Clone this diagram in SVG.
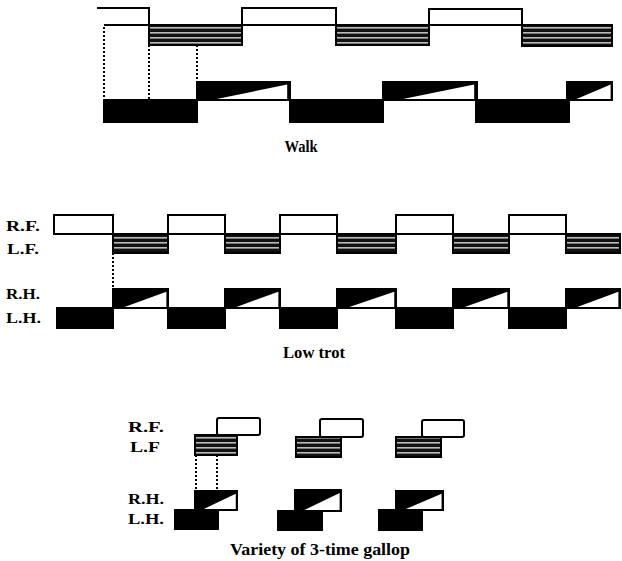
<svg xmlns="http://www.w3.org/2000/svg" width="622" height="561" viewBox="0 0 622 561">
<style>
.w{fill:#fff;stroke:#000;stroke-width:2}
.s{fill:url(#stripe);stroke:#000;stroke-width:2}
.b{fill:#000;stroke:#000;stroke-width:2}
.o{fill:none;stroke:#000;stroke-width:2}
.ln{stroke:#000;stroke-width:2;fill:none}
.d{stroke:#000;stroke-width:2;stroke-dasharray:2 2;fill:none}
.lab{font-family:"Liberation Serif",serif;font-weight:bold;font-size:15px;fill:#000}
.cap{font-family:"Liberation Serif",serif;font-weight:bold;font-size:16px;fill:#000}
</style>
<defs>
<pattern id="stripe" patternUnits="userSpaceOnUse" width="8" height="5">
<rect width="8" height="5" fill="#111"/>
<rect y="2" width="8" height="1.6" fill="#bbb"/>
</pattern>
<symbol id="tri" viewBox="0 0 100 100" preserveAspectRatio="none">
<rect width="100" height="100" fill="#000"/>
<polygon points="16,100 97,14 97,100" fill="#fff"/>
</symbol>
</defs>
<rect width="622" height="561" fill="#fff"/>

<g id="walk">
<g id="walk-rf">
<path class="ln" d="M97,8 H149 V25"/>
<rect class="w" x="242" y="8" width="94" height="17"/>
<rect class="w" x="429" y="9" width="93" height="16"/>
</g>
<line class="ln" x1="104" y1="25" x2="612" y2="25"/>
<g id="walk-lf">
<rect class="s" x="149" y="25" width="93" height="20"/>
<rect class="s" x="336" y="25" width="93" height="20"/>
<rect class="s" x="522" y="25" width="90" height="21"/>
</g>
<g id="walk-rh">
<use href="#tri" x="197" y="82" width="93" height="18"/><rect class="o" x="197" y="82" width="93" height="18"/>
<use href="#tri" x="383" y="82" width="94" height="18"/><rect class="o" x="383" y="82" width="94" height="18"/>
<use href="#tri" x="567" y="82" width="45" height="18"/><rect class="o" x="567" y="82" width="45" height="18"/>
</g>
<line class="ln" x1="104" y1="100" x2="612" y2="100"/>
<g id="walk-lh">
<rect class="b" x="104" y="100" width="93" height="22"/>
<rect class="b" x="290" y="100" width="93" height="22"/>
<rect class="b" x="476" y="100" width="93" height="22"/>
</g>
<text class="cap" x="301" y="152" text-anchor="middle" font-size="14" textLength="33" lengthAdjust="spacingAndGlyphs">Walk</text>
</g>

<g id="trot">
<text class="lab" x="6" y="231" textLength="34" lengthAdjust="spacingAndGlyphs">R.F.</text>
<text class="lab" x="7" y="254" textLength="32" lengthAdjust="spacingAndGlyphs">L.F.</text>
<text class="lab" x="6" y="299" textLength="34" lengthAdjust="spacingAndGlyphs">R.H.</text>
<text class="lab" x="6" y="323" textLength="35" lengthAdjust="spacingAndGlyphs">L.H.</text>
<g id="trot-rf">
<rect class="w" x="54" y="215" width="59" height="19"/>
<rect class="w" x="168" y="215" width="57" height="19"/>
<rect class="w" x="280" y="215" width="57" height="19"/>
<rect class="w" x="396" y="215" width="57" height="19"/>
<rect class="w" x="509" y="215" width="57" height="19"/>
</g>
<line class="ln" x1="54" y1="234" x2="620" y2="234"/>
<g id="trot-lf">
<rect class="s" x="113" y="234" width="55" height="19"/>
<rect class="s" x="225" y="234" width="55" height="19"/>
<rect class="s" x="337" y="234" width="59" height="19"/>
<rect class="s" x="453" y="234" width="56" height="19"/>
<rect class="s" x="566" y="234" width="54" height="19"/>
</g>
<g id="trot-rh">
<use href="#tri" x="113" y="289" width="55" height="19"/><rect class="o" x="113" y="289" width="55" height="19"/>
<use href="#tri" x="225" y="289" width="55" height="19"/><rect class="o" x="225" y="289" width="55" height="19"/>
<use href="#tri" x="337" y="289" width="59" height="19"/><rect class="o" x="337" y="289" width="59" height="19"/>
<use href="#tri" x="453" y="289" width="56" height="19"/><rect class="o" x="453" y="289" width="56" height="19"/>
<use href="#tri" x="566" y="289" width="54" height="19"/><rect class="o" x="566" y="289" width="54" height="19"/>
</g>
<line class="ln" x1="57" y1="308" x2="620" y2="308"/>
<g id="trot-lh">
<rect class="b" x="57" y="308" width="56" height="20"/>
<rect class="b" x="168" y="308" width="57" height="20"/>
<rect class="b" x="280" y="308" width="57" height="20"/>
<rect class="b" x="396" y="308" width="57" height="20"/>
<rect class="b" x="509" y="308" width="57" height="20"/>
</g>
<text class="cap" x="314" y="358" text-anchor="middle" textLength="62" lengthAdjust="spacingAndGlyphs">Low trot</text>
</g>

<g id="gallop">
<text class="lab" x="128" y="432" textLength="36" lengthAdjust="spacingAndGlyphs">R.F.</text>
<text class="lab" x="130" y="452" textLength="30" lengthAdjust="spacingAndGlyphs">L.F</text>
<text class="lab" x="128" y="504" textLength="36" lengthAdjust="spacingAndGlyphs">R.H.</text>
<text class="lab" x="128" y="524" textLength="36" lengthAdjust="spacingAndGlyphs">L.H.</text>
<g id="gallop-1">
<rect class="w" x="217" y="418" width="43" height="17" rx="2"/>
<rect class="s" x="195" y="435" width="42" height="20"/>
<use href="#tri" x="195" y="491" width="42" height="19"/><rect class="o" x="195" y="491" width="42" height="19"/>
<rect class="b" x="175" y="510" width="43" height="19"/>
</g>
<g id="gallop-2">
<rect class="w" x="320" y="419" width="43" height="18" rx="2"/>
<rect class="s" x="296" y="437" width="45" height="20"/>
<use href="#tri" x="295" y="490" width="46" height="21"/><rect class="o" x="295" y="490" width="46" height="21"/>
<rect class="b" x="278" y="511" width="44" height="19"/>
</g>
<g id="gallop-3">
<rect class="w" x="422" y="420" width="42" height="17" rx="2"/>
<rect class="s" x="396" y="437" width="45" height="20"/>
<use href="#tri" x="396" y="491" width="47" height="19"/><rect class="o" x="396" y="491" width="47" height="19"/>
<rect class="b" x="379" y="510" width="43" height="20"/>
</g>
<text class="cap" x="320" y="555" text-anchor="middle" textLength="180" lengthAdjust="spacingAndGlyphs">Variety of 3-time gallop</text>
</g>

<g id="connectors">
<line class="d" x1="104" y1="27" x2="104" y2="100"/>
<line class="d" x1="149" y1="45" x2="149" y2="100"/>
<line class="d" x1="197" y1="45" x2="197" y2="82"/>
<line class="d" x1="113" y1="253" x2="113" y2="289"/>
<line class="d" x1="196" y1="455" x2="196" y2="491"/>
<line class="d" x1="217" y1="455" x2="217" y2="491"/>
</g>
</svg>
